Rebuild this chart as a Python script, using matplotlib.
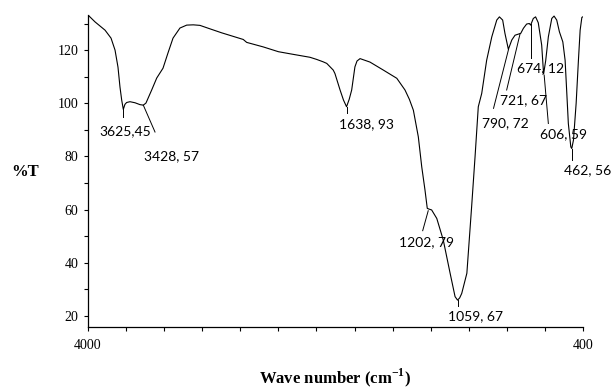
import numpy as np
import matplotlib
matplotlib.use("Agg")
import matplotlib.pyplot as plt

# FTIR spectrum (wavenumber in cm-1, transmittance in %)
wavenumber = [4000, 3926, 3821, 3758, 3716, 3685, 3664, 3646, 3629, 3612, 3594,
              3559, 3506, 3454, 3419, 3391, 3331, 3278, 3212, 3160, 3107, 3034,
              2963, 2894, 2824, 2719, 2596, 2369, 2333, 2159, 2000, 1922, 1834,
              1799, 1765, 1746, 1712, 1703, 1676, 1658, 1642, 1628, 1615, 1598,
              1587, 1571, 1519, 1449, 1378, 1335, 1312, 1291, 1265, 1247, 1230,
              1218, 1208, 1195, 1168, 1134, 1098, 1072, 1059, 1048, 1037, 1010,
              985, 967, 950, 932, 906, 879, 853, 839, 822, 810, 792, 774, 757,
              740, 727, 713, 696, 682, 675, 661, 649, 635, 617, 607, 596, 582,
              564, 552, 538, 524, 506, 494, 485, 477, 464, 459, 450, 436, 424,
              415, 406, 401]
transmittance = [133.2, 130.6, 127.5, 124.5, 120.0, 113.6, 106.1, 101.2, 97.7,
                 99.6, 100.3, 100.6, 100.2, 99.5, 99.3, 100.1, 105.0, 109.5,
                 113.2, 118.9, 124.5, 128.3, 129.4, 129.5, 129.3, 128.0, 126.5,
                 124.0, 122.9, 121.2, 119.4, 118.4, 117.3, 116.5, 115.6, 115.0,
                 112.5, 111.2, 105.0, 101.2, 98.7, 101.5, 105.0, 113.7, 115.9,
                 116.8, 115.5, 112.5, 109.4, 105.0, 101.5, 97.4, 87.4, 76.1,
                 67.4, 60.5, 60.2, 59.9, 56.7, 48.6, 36.1, 27.3, 26.0, 26.8,
                 28.5, 36.1, 61.1, 79.9, 98.7, 103.7, 116.2, 125.0, 131.3,
                 132.5, 131.3, 126.3, 120.3, 123.8, 125.6, 126.0, 126.3, 128.2,
                 129.8, 130.0, 129.4, 131.9, 132.5, 130.3, 121.9, 111.0, 116.0,
                 125.0, 131.9, 132.8, 131.3, 126.9, 123.1, 116.2, 103.7, 92.4,
                 83.6, 83.0, 86.2, 100.0, 116.2, 127.5, 132.3, 132.5]

# peak labels: text, peak point, end of leader line, text centre
peak_labels = ["3625,45", "3428, 57", "1638, 93", "1202, 79", "1059, 67",
               "790, 72", "721, 67", "674, 12", "606, 59", "462, 56"]
peak_w = [3629, 3419, 1642, 1213, 1058, 791, 731, 674, 604, 459]
peak_t = [97.7, 99.3, 98.7, 59.6, 26.0, 120.3, 126.0, 129.8, 110.6, 83.0]
leader_w = [3629, 3296, 1642, 1242, 1058, 870, 801, 674, 582, 459]
leader_t = [94.8, 89.2, 96.4, 52.1, 23.8, 98.1, 105.0, 117.0, 92.4, 78.6]
text_w = [3611, 3120, 1540, 1222, 967, 806, 710, 622, 505, 377]
text_t = [89.5, 80.1, 92.2, 47.9, 20.1, 92.4, 101.2, 113.1, 88.3, 74.9]

y_major = [20, 40, 60, 80, 100, 120]
y_minor = [30, 50, 70, 90, 110, 130]
x_labeled = [4000, 400]
x_minor = [3600, 3200, 2800, 2400, 2000, 1800, 1600, 1400, 1200, 1000, 800, 600]


# the chart uses half scale above 2000 cm-1
def fwd(w):
    w = np.asarray(w, dtype=float)
    return np.where(w > 2000, 2000 + (w - 2000) / 2.0, w)


def inv(u):
    u = np.asarray(u, dtype=float)
    return np.where(u > 2000, 2000 + (u - 2000) * 2.0, u)


plt.rcParams['mathtext.fontset'] = 'custom'
plt.rcParams['mathtext.bf'] = 'Liberation Serif:bold'
plt.rcParams['mathtext.rm'] = 'Liberation Serif:bold'

fig = plt.figure(figsize=(6.11, 3.88), dpi=100)
ax = fig.add_axes([88 / 611, 1 - 326.7 / 388, 495 / 611, 311.7 / 388])

ax.set_xscale('function', functions=(fwd, inv))
ax.plot(wavenumber, transmittance, color='black', lw=0.8)
ax.set_xlim(4000, 400)
ax.set_ylim(16, 133.2)

for lab, pw, pt, lw_, lt, tw, tt in zip(peak_labels, peak_w, peak_t,
                                        leader_w, leader_t, text_w, text_t):
    ax.plot([pw, lw_], [pt, lt], color='black', lw=0.7, clip_on=False)
    ax.text(tw, tt, lab, ha='center', va='center', fontsize=10,
            family='Lato', color='black', clip_on=False)

ax.set_yticks(y_major)
ax.set_yticks(y_minor, minor=True)
ax.set_xticks(x_labeled)
ax.set_xticklabels([str(v) for v in x_labeled])
ax.set_xticks(x_minor, minor=True)
ax.xaxis.set_minor_formatter(plt.NullFormatter())

for s in ['top', 'right']:
    ax.spines[s].set_visible(False)
for s in ['left', 'bottom']:
    ax.spines[s].set_linewidth(0.9)

ax.tick_params(which='both', direction='out', length=3, width=0.8, color='black')
ax.tick_params(axis='y', pad=4)
ax.tick_params(axis='x', pad=6)
for t in ax.get_xticklabels() + ax.get_yticklabels():
    t.set_family('Liberation Serif')
    t.set_fontsize(10)

ax.set_xlabel(r'Wave number (cm$^{\mathbf{-1}}$)', family='Liberation Serif',
              fontweight='bold', fontsize=12, va='baseline')
ax.xaxis.set_label_coords(0.5, -0.181)
ax.set_ylabel('%T', family='Liberation Serif', fontweight='bold',
              fontsize=12, rotation=0, ha='center', va='center')
ax.yaxis.set_label_coords(-0.127, 0.496)

fig.savefig('out.png', dpi=100)
